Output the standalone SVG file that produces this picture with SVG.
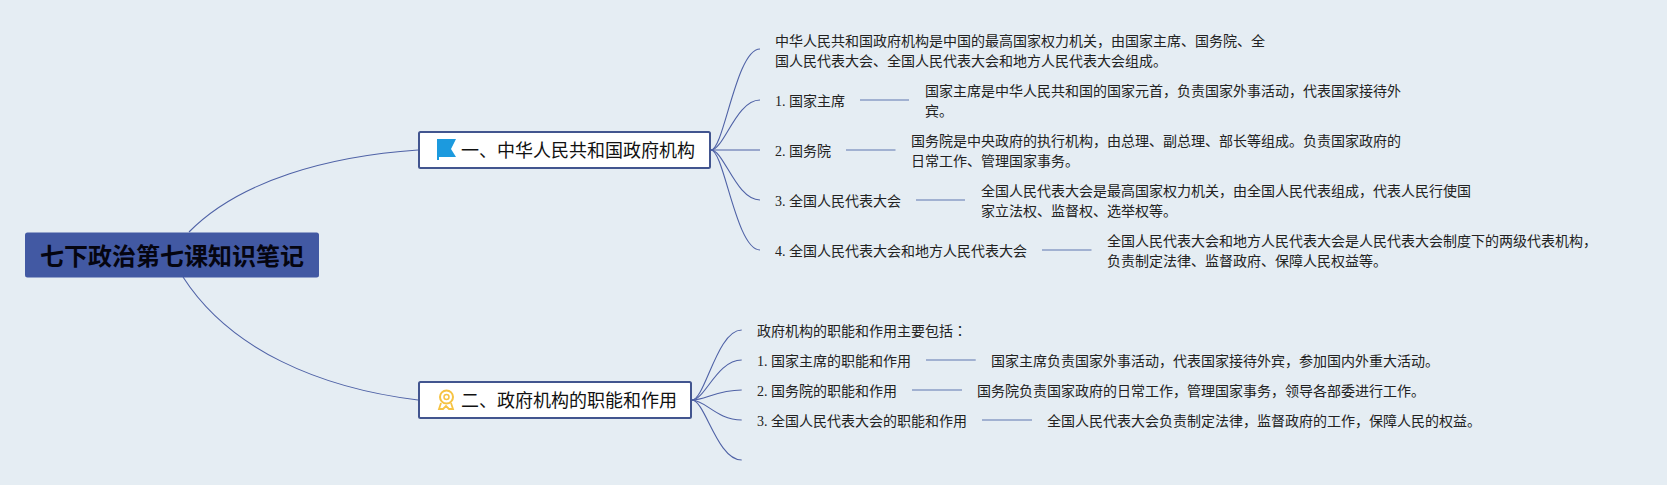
<svg xmlns="http://www.w3.org/2000/svg" width="1667" height="485" viewBox="0 0 1667 485">
<style>
text{font-family:"Liberation Serif","Noto Sans CJK SC",serif;font-size:14px;fill:#222}
.root{font-family:"Liberation Sans","Noto Sans CJK SC",sans-serif;font-size:24px;font-weight:700;fill:#050510}
.main{font-family:"Liberation Sans","Noto Sans CJK SC",sans-serif;font-size:18px;fill:#111}
.colon{font-family:"Noto Sans CJK TC",sans-serif}
.c path,.c line{fill:none;stroke:#4f62a6;stroke-width:1.1}
.c line{stroke:#8a9cc6;stroke-width:1.6}
.box{fill:#fff;stroke:#42558f;stroke-width:2}
</style>
<rect width="1667" height="485" fill="#e5edf3"/>
<g id="connectors" class="c">
<path d="M189,232C240,180 330,156 418,150"/>
<path d="M183,277C230,350 320,388 418,400"/>
<path d="M711,150C724,150 736,49 760,49"/>
<path d="M711,150C724,150 736,100 760,100"/>
<path d="M711,150H760"/>
<path d="M711,150C724,150 736,200 760,200"/>
<path d="M711,150C724,150 736,250 760,250"/>
<line x1="860" y1="100" x2="909" y2="100"/>
<line x1="846" y1="150" x2="895.500" y2="150"/>
<line x1="916" y1="200" x2="965" y2="200"/>
<line x1="1042" y1="250" x2="1091.500" y2="250"/>
<path d="M692,400C705,400 717,330 741.700,330"/>
<path d="M692,400C705,400 717,360 741.700,360"/>
<path d="M692,400C705,400 717,390 741.700,390"/>
<path d="M692,400C705,400 717,420 741.700,420"/>
<path d="M692,400C705,400 717,460 741.700,460"/>
<line x1="926" y1="360" x2="975.700" y2="360"/>
<line x1="912" y1="390" x2="962" y2="390"/>
<line x1="982" y1="420" x2="1032" y2="420"/>
</g>
<g id="root"><rect x="25" y="232.500" width="294" height="45" rx="2.500" fill="#4259a3"/><text class="root" x="40" y="264.500">七下政治第七课知识笔记</text></g>
<g id="node1"><rect class="box" x="419" y="132" width="291" height="36" rx="1.500"/>
<path d="M437,139H456L451,149L456,157H439V160H437Z" fill="#1c9ade"/>
<text class="main" x="461" y="156.500">一、中华人民共和国政府机构</text></g>
<g id="node2"><rect class="box" x="419" y="382" width="272" height="36" rx="1.500"/>
<circle cx="446.500" cy="397" r="6.500" fill="none" stroke="#f6c343" stroke-width="2"/><circle cx="446.500" cy="397" r="2.500" fill="none" stroke="#f6c343" stroke-width="1.500"/><path d="M441,403L439,409L443,409L446,406L449,409L453,409L451,403" fill="none" stroke="#f6c343" stroke-width="1.800"/>
<text class="main" x="461" y="406.500">二、政府机构的职能和作用</text></g>
<g id="n1-intro"><text x="775" y="45.500">中华人民共和国政府机构是中国的最高国家权力机关，由国家主席、国务院、全</text><text x="775" y="65.500">国人民代表大会、全国人民代表大会和地方人民代表大会组成。</text></g>
<g id="n1-1"><text x="775" y="105.500">1. 国家主席</text></g>
<g id="n1-1-d"><text x="925" y="95.500">国家主席是中华人民共和国的国家元首，负责国家外事活动，代表国家接待外</text><text x="925" y="115.500">宾。</text></g>
<g id="n1-2"><text x="775" y="155.500">2. 国务院</text></g>
<g id="n1-2-d"><text x="911" y="145.500">国务院是中央政府的执行机构，由总理、副总理、部长等组成。负责国家政府的</text><text x="911" y="165.500">日常工作、管理国家事务。</text></g>
<g id="n1-3"><text x="775" y="205.500">3. 全国人民代表大会</text></g>
<g id="n1-3-d"><text x="981" y="195.500">全国人民代表大会是最高国家权力机关，由全国人民代表组成，代表人民行使国</text><text x="981" y="215.500">家立法权、监督权、选举权等。</text></g>
<g id="n1-4"><text x="775" y="255.500">4. 全国人民代表大会和地方人民代表大会</text></g>
<g id="n1-4-d"><text x="1107" y="245.500">全国人民代表大会和地方人民代表大会是人民代表大会制度下的两级代表机构，</text><text x="1107" y="265.500">负责制定法律、监督政府、保障人民权益等。</text></g>
<g id="n2-intro"><text x="757" y="335.500">政府机构的职能和作用主要包括<tspan class="colon">：</tspan></text></g>
<g id="n2-1"><text x="757" y="365.500">1. 国家主席的职能和作用</text></g>
<g id="n2-1-d"><text x="991" y="365.500">国家主席负责国家外事活动，代表国家接待外宾，参加国内外重大活动。</text></g>
<g id="n2-2"><text x="757" y="395.500">2. 国务院的职能和作用</text></g>
<g id="n2-2-d"><text x="977" y="395.500">国务院负责国家政府的日常工作，管理国家事务，领导各部委进行工作。</text></g>
<g id="n2-3"><text x="757" y="425.500">3. 全国人民代表大会的职能和作用</text></g>
<g id="n2-3-d"><text x="1047" y="425.500">全国人民代表大会负责制定法律，监督政府的工作，保障人民的权益。</text></g>
</svg>
